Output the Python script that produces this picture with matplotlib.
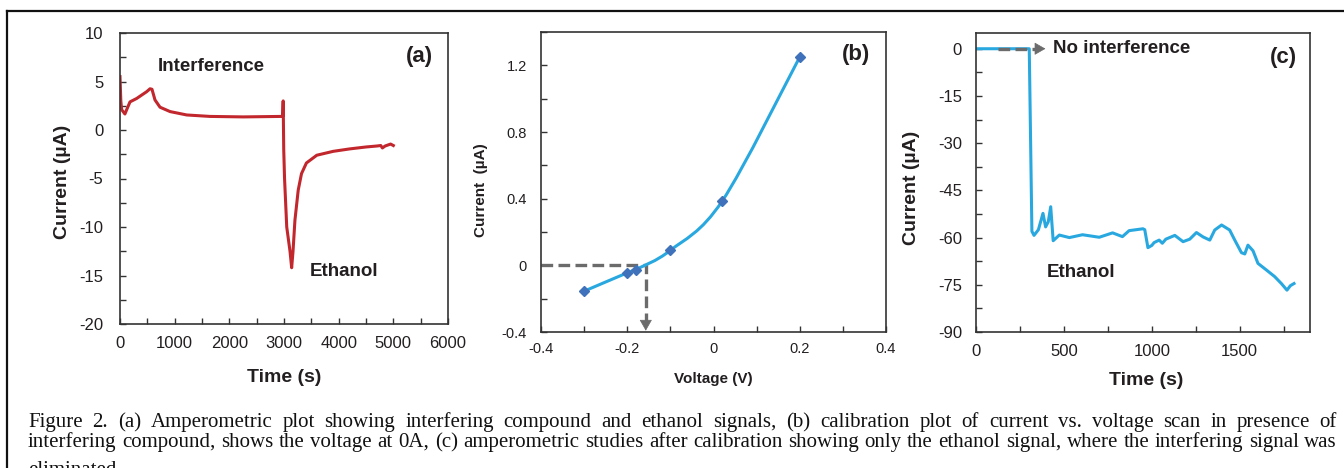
import numpy as np
import matplotlib.pyplot as plt
from matplotlib.path import Path
from matplotlib.patches import PathPatch
from matplotlib.lines import Line2D
from matplotlib.ticker import MultipleLocator
import matplotlib.transforms as mtransforms

plt.rcParams['font.family'] = ['Liberation Sans', 'DejaVu Sans']
plt.rcParams['axes.unicode_minus'] = False

# (a) amperometric response with interference
time_a = [0, 15, 30, 90, 130, 183, 305, 396, 488, 549, 585, 640, 732, 915, 1220,
          1646, 2256, 2950, 2975, 2985, 2995, 3010, 3050, 3110, 3140, 3165, 3200,
          3260, 3320, 3410, 3600, 3900, 4200, 4500, 4700, 4770, 4800, 4850, 4950, 5000]
current_a = [5.5, 3.0, 2.1, 1.65, 2.2, 2.9, 3.25, 3.6, 3.95, 4.25, 4.2, 3.1, 2.35, 1.9, 1.55,
             1.4, 1.35, 1.4, 1.4, 3.0, -2.0, -5.0, -10.0, -12.5, -14.2, -12.5, -9.3,
             -6.2, -4.5, -3.4, -2.6, -2.2, -1.95, -1.75, -1.65, -1.6, -1.85, -1.65, -1.45, -1.6]

# (b) calibration: current vs voltage
voltage_b = [-0.3, -0.2, -0.18, -0.1, 0.02, 0.2]
current_b = [-0.155, -0.045, -0.025, 0.09, 0.385, 1.25]
v_at_zero = -0.157

# (c) amperometric response after calibration
time_c = [0, 303, 318, 330, 355, 381, 396, 411, 425, 439, 474, 531, 606, 701, 777, 833,
          871, 950, 960, 978, 1000, 1013, 1042, 1060, 1080, 1131, 1178, 1216, 1254, 1292,
          1330, 1358, 1397, 1443, 1472, 1510, 1529, 1547, 1576, 1604, 1652, 1699, 1737,
          1769, 1788, 1809]
current_c = [0, 0, -58.0, -59.3, -57.5, -52.3, -56.6, -55.0, -50.2, -61.0, -59.2, -60.0,
             -59.1, -59.9, -58.5, -59.7, -57.8, -57.2, -57.5, -63.2, -62.5, -61.6, -60.8,
             -61.8, -60.5, -59.3, -61.3, -60.5, -58.4, -59.8, -60.8, -57.6, -56.0, -57.6,
             -60.8, -64.8, -65.2, -62.4, -64.2, -68.2, -70.3, -72.4, -74.6, -76.7, -75.3, -74.6]

caption_lines = [
    "Figure 2. (a) Amperometric plot showing interfering compound and ethanol signals, "
    "(b) calibration plot of current vs. voltage scan in presence of",
    "interfering compound, shows the voltage at 0A, (c) amperometric studies after "
    "calibration showing only the ethanol signal, where the interfering signal was",
    "eliminated.",
]

W, H = 1344, 468
RED = '#C1272D'
BLUE = '#29A8E0'
MARK = '#3F72BA'
GRAY = '#6B6B6B'
SPINE = '#333333'
TXT = '#231F20'

fig = plt.figure(figsize=(W / 100, H / 100), dpi=100)


def px_axes(l, t, r, b):
    return fig.add_axes([l / W, 1 - b / H, (r - l) / W, (b - t) / H])


def style_axes(ax, fs, xpad, ypad):
    for s in ax.spines.values():
        s.set_color(SPINE)
        s.set_linewidth(1.2)
    ax.tick_params(which='both', direction='in', length=4, width=1, color=SPINE,
                   labelsize=fs, labelcolor=TXT)
    ax.tick_params(axis='x', which='both', pad=xpad)
    ax.tick_params(axis='y', which='both', pad=ypad)


def plain(v, pos):
    return '0' if abs(v) < 1e-9 else f'{v:g}'


# ---------------- (a) ----------------
ax_a = px_axes(120, 33, 448, 324)
ax_a.plot(time_a, current_a, color=RED, lw=2.2, solid_joinstyle='round')
ax_a.set_xlim(0, 6000)
ax_a.set_ylim(-20, 10)
ax_a.xaxis.set_major_locator(MultipleLocator(1000))
ax_a.xaxis.set_minor_locator(MultipleLocator(500))
ax_a.yaxis.set_major_locator(MultipleLocator(5))
ax_a.yaxis.set_minor_locator(MultipleLocator(2.5))
style_axes(ax_a, 12, 9, 12)
ax_a.set_xlabel('Time (s)', fontsize=14, fontweight='bold', color=TXT)
ax_a.set_ylabel('Current (µA)', fontsize=14, fontweight='bold', color=TXT)
ax_a.xaxis.set_label_coords(0.5, -0.155)
ax_a.yaxis.set_label_coords(-0.15, 0.49)
ax_a.text(0.116, 0.885, 'Interference', transform=ax_a.transAxes, fontsize=13.5,
          fontweight='bold', color=TXT, va='center', ha='left')
ax_a.text(0.58, 0.18, 'Ethanol', transform=ax_a.transAxes, fontsize=13.5,
          fontweight='bold', color=TXT, va='center', ha='left')
ax_a.text(0.955, 0.92, '(a)', transform=ax_a.transAxes, fontsize=16,
          fontweight='bold', color=TXT, va='center', ha='right')

# ---------------- (b) ----------------
ax_b = px_axes(541, 32, 886, 332)
ax_b.set_xlim(-0.4, 0.4)
ax_b.set_ylim(-0.4, 1.4)
# smoothed line through the points (Excel-like cubic Bezier)
pts = np.column_stack([voltage_b, current_b])
ext = np.vstack([pts[0], pts, pts[-1]])
verts = [tuple(pts[0])]
codes = [Path.MOVETO]
for i in range(1, len(ext) - 2):
    p0, p1, p2, p3 = ext[i - 1], ext[i], ext[i + 1], ext[i + 2]
    verts += [tuple(p1 + (p2 - p0) / 6), tuple(p2 - (p3 - p1) / 6), tuple(p2)]
    codes += [Path.CURVE4] * 3
ax_b.add_patch(PathPatch(Path(verts, codes), fill=False, edgecolor=BLUE, lw=2.2, zorder=3))
ax_b.plot(voltage_b, current_b, ls='none', marker='D', ms=5.5, color=MARK, zorder=4)
# dashed guide to 0 A
ax_b.plot([-0.4, v_at_zero, v_at_zero], [0, 0, -0.345], color=GRAY, lw=2.4,
          ls=(0, (3.5, 1.6)), zorder=2, dash_capstyle='butt')
ax_b.annotate('', xy=(v_at_zero, -0.392), xytext=(v_at_zero, -0.35),
              arrowprops=dict(arrowstyle='-|>,head_length=0.7,head_width=0.4',
                              color=GRAY, lw=0.5, shrinkA=0, shrinkB=0))
ax_b.xaxis.set_major_locator(MultipleLocator(0.2))
ax_b.xaxis.set_minor_locator(MultipleLocator(0.1))
ax_b.yaxis.set_major_locator(MultipleLocator(0.4))
ax_b.yaxis.set_minor_locator(MultipleLocator(0.2))
ax_b.xaxis.set_major_formatter(plt.FuncFormatter(plain))
ax_b.yaxis.set_major_formatter(plt.FuncFormatter(plain))
style_axes(ax_b, 10.5, 7, 10)
ax_b.set_xlabel('Voltage (V)', fontsize=11, fontweight='bold', color=TXT)
ax_b.set_ylabel('Current  (µA)', fontsize=11, fontweight='bold', color=TXT)
ax_b.xaxis.set_label_coords(0.5, -0.133)
ax_b.yaxis.set_label_coords(-0.154, 0.473)
ax_b.text(0.955, 0.925, '(b)', transform=ax_b.transAxes, fontsize=16,
          fontweight='bold', color=TXT, va='center', ha='right')

# ---------------- (c) ----------------
ax_c = px_axes(976, 33, 1310, 332)
ax_c.plot(time_c, current_c, color=BLUE, lw=2.2, solid_joinstyle='round')
ax_c.set_xlim(0, 1900)
ax_c.set_ylim(-90, 5)
ax_c.plot([125, 340], [0, 0], color=GRAY, lw=2.4, ls=(0, (3.5, 1.6)), zorder=3)
ax_c.annotate('', xy=(395, 0), xytext=(335, 0),
              arrowprops=dict(arrowstyle='-|>,head_length=0.7,head_width=0.4',
                              color=GRAY, lw=0.5, shrinkA=0, shrinkB=0), zorder=3)
ax_c.xaxis.set_major_locator(MultipleLocator(500))
ax_c.xaxis.set_minor_locator(MultipleLocator(250))
ax_c.yaxis.set_major_locator(MultipleLocator(15))
ax_c.yaxis.set_minor_locator(MultipleLocator(7.5))
style_axes(ax_c, 12, 9, 10)
ax_c.set_xlabel('Time (s)', fontsize=14, fontweight='bold', color=TXT)
ax_c.set_ylabel('Current (µA)', fontsize=14, fontweight='bold', color=TXT)
ax_c.xaxis.set_label_coords(0.51, -0.134)
ax_c.yaxis.set_label_coords(-0.168, 0.483)
ax_c.text(0.23, 0.947, 'No interference', transform=ax_c.transAxes, fontsize=13.5,
          fontweight='bold', color=TXT, va='center', ha='left')
ax_c.text(0.213, 0.20, 'Ethanol', transform=ax_c.transAxes, fontsize=13.5,
          fontweight='bold', color=TXT, va='center', ha='left')
ax_c.text(0.96, 0.917, '(c)', transform=ax_c.transAxes, fontsize=16,
          fontweight='bold', color=TXT, va='center', ha='right')

# ---------------- outer frame ----------------
px = mtransforms.IdentityTransform()
fig.add_artist(Line2D([7, 7], [0, H - 11], transform=px, color='#111111', lw=1.6))
fig.add_artist(Line2D([7, W], [H - 11, H - 11], transform=px, color='#111111', lw=1.6))

# ---------------- caption (justified) ----------------
renderer = fig.canvas.get_renderer()
cap_kw = dict(fontsize=15, family='Liberation Serif', color='#111111',
              va='baseline', ha='left', transform=px)
baselines = [427, 447, 475]
x0, x1 = 28, 1337
tmp1 = fig.text(0, 200, 'a a', **cap_kw)
tmp2 = fig.text(0, 200, 'aa', **cap_kw)
space_w = tmp1.get_window_extent(renderer).width - tmp2.get_window_extent(renderer).width
tmp1.remove()
tmp2.remove()
for i, line in enumerate(caption_lines):
    y = H - baselines[i]
    words = line.split()
    texts = [fig.text(0, y, w, **cap_kw) for w in words]
    widths = [t.get_window_extent(renderer).width for t in texts]
    if i < 2 and len(words) > 1:
        gap = (x1 - x0 - sum(widths)) / (len(words) - 1)
    else:
        gap = space_w
    x = x0
    for t, w in zip(texts, widths):
        t.set_x(x)
        x += w + gap

fig.savefig('out.png', dpi=100)
